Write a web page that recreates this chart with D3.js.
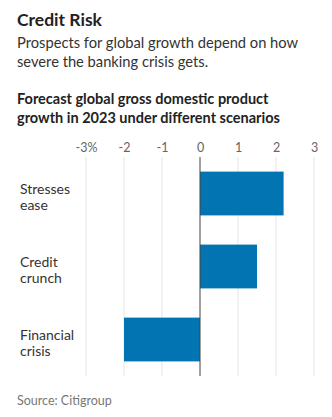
<!DOCTYPE html>
<html>
<head>
<meta charset="utf-8">
<script src="https://cdn.jsdelivr.net/npm/d3@7"></script>
<style>
  body { margin: 0; background: #fff; }
  text { font-family: Lato, "Noto Sans", sans-serif; }
</style>
</head>
<body>
<div id="chart"></div>
<script>
let scenarios = [["Stresses", "ease"], ["Credit", "crunch"], ["Financial", "crisis"]];
let growth = [2.2, 1.5, -2.0];
let tickValues = [-3, -2, -1, 0, 1, 2, 3];
let tickLabels = ["-3%", "-2", "-1", "0", "1", "2", "3"];

let width = 332;
let height = 417;

let svg = d3.select("#chart")
    .append("svg")
    .attr("width", width)
    .attr("height", height);

// headline + dek
svg.append("text")
    .attr("x", 17).attr("y", 26)
    .attr("font-size", 17.5).attr("font-weight", 700).attr("fill", "#222")
    .text("Credit Risk");

let dek = ["Prospects for global growth depend on how", "severe the banking crisis gets."];
dek.forEach((line, i) => {
    svg.append("text")
        .attr("x", 17).attr("y", 48 + i * 19)
        .attr("font-size", 14.7).attr("fill", "#333")
        .text(line);
});

let chartTitle = ["Forecast global gross domestic product", "growth in 2023 under different scenarios"];
chartTitle.forEach((line, i) => {
    svg.append("text")
        .attr("x", 17).attr("y", 104 + i * 19)
        .attr("font-size", 14.5).attr("font-weight", 700).attr("fill", "#222")
        .text(line);
});

// scales
let xScale = d3.scaleLinear()
    .domain([-3, 3])
    .range([86, 314]);

let yScale = d3.scaleBand()
    .domain(d3.range(growth.length))
    .range([157, 376])
    .paddingInner(0.4)
    .paddingOuter(0.2);

// gridlines
svg.append("g")
    .selectAll("line")
    .data(tickValues.filter(d => d !== 0))
    .enter()
    .append("line")
    .attr("x1", d => xScale(d)).attr("x2", d => xScale(d))
    .attr("y1", 157).attr("y2", 376)
    .attr("stroke", "#e4e4e4")
    .attr("stroke-width", 1);

// tick labels
let xAxis = d3.axisTop(xScale)
    .tickValues(tickValues)
    .tickFormat((d, i) => tickLabels[i])
    .tickSize(0)
    .tickPadding(0);

let axisG = svg.append("g")
    .attr("transform", "translate(0,152)")
    .call(xAxis);
axisG.select(".domain").remove();
axisG.selectAll("text")
    .attr("font-size", 12.5)
    .attr("fill", "#666")
    .attr("dy", 0)
    .style("font-family", "Lato, 'Noto Sans', sans-serif");

// bars
svg.append("g")
    .selectAll("rect")
    .data(growth)
    .enter()
    .append("rect")
    .attr("x", d => xScale(Math.min(0, d)))
    .attr("y", (d, i) => yScale(i))
    .attr("width", d => Math.abs(xScale(d) - xScale(0)))
    .attr("height", yScale.bandwidth())
    .attr("fill", "#0274b1");

// zero line
svg.append("line")
    .attr("x1", xScale(0)).attr("x2", xScale(0))
    .attr("y1", 157).attr("y2", 376)
    .attr("stroke", "#444")
    .attr("stroke-width", 1);

// category labels
let labelG = svg.append("g");
scenarios.forEach((lines, i) => {
    let cy = yScale(i) + yScale.bandwidth() / 2;
    lines.forEach((line, j) => {
        labelG.append("text")
            .attr("x", 20)
            .attr("y", cy + j * 16.5)
            .attr("font-size", 14)
            .attr("fill", "#333")
            .text(line);
    });
});

// source
svg.append("text")
    .attr("x", 17).attr("y", 405)
    .attr("font-size", 12.5).attr("fill", "#777")
    .text("Source: Citigroup");
</script>
</body>
</html>
